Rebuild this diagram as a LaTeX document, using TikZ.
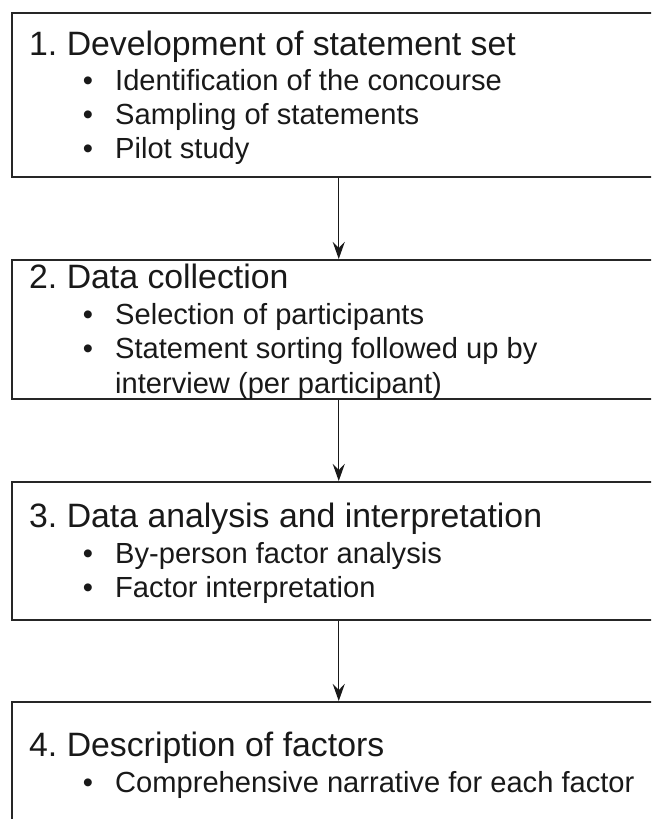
\documentclass[tikz,border=0pt]{standalone}
\usepackage{fontspec}
\setmainfont{Liberation Sans}
\usetikzlibrary{arrows.meta}
\frenchspacing
\begin{document}
\begin{tikzpicture}[x=1pt,y=-1pt,
  stage/.style={draw=black!85, line width=1.5pt, minimum width=654pt, inner sep=0pt, anchor=north west},
  heading/.style={anchor=base west, inner sep=0pt, font=\fontsize{33.8}{40}\selectfont, text=black!90},
  entry/.style={anchor=base west, inner sep=0pt, font=\fontsize{29.1}{34}\selectfont, text=black!90},
  bul/.style={anchor=base, inner sep=0pt, font=\fontsize{29.1}{34}\selectfont, text=black!90},
  flow/.style={-{Stealth[length=17pt,width=12pt,inset=6pt]}, line width=1.4pt, draw=black!90}]
\useasboundingbox (0,0) rectangle (651,819);
\clip (0,0) rectangle (651,819);

% stage boxes (they run past the right and bottom edges)
\node[stage, minimum height=164pt] (s1) at (11,12) {};
\node[stage, minimum height=139pt] (s2) at (11,259) {};
\node[stage, minimum height=138pt] (s3) at (11,481) {};
\node[stage, minimum height=140pt] (s4) at (11,701) {};

% connectors
\draw[flow] (s1.south) -- (s2.north);
\draw[flow] (s2.south) -- (s3.north);
\draw[flow] (s3.south) -- (s4.north);

% stage 1
\node[heading] (h1) at (29,55) {1. Development of statement set};
\node[bul] (b11) at (88,90) {•};
\node[entry] (e11) at (115,90) {Identification of the concourse};
\node[bul] (b12) at (88,124) {•};
\node[entry] (e12) at (115,124) {Sampling of statements};
\node[bul] (b13) at (88,158) {•};
\node[entry] (e13) at (115,158) {Pilot study};

% stage 2
\node[heading] (h2) at (29,288) {2. Data collection};
\node[bul] (b21) at (88,324) {•};
\node[entry] (e21) at (115,324) {Selection of participants};
\node[bul] (b22) at (88,358) {•};
\node[entry] (e22) at (115,358) {Statement sorting followed up by};
\node[entry] (e23) at (115,393) {interview (per participant)};

% stage 3
\node[heading] (h3) at (29,527) {3. Data analysis and interpretation};
\node[bul] (b31) at (88,563) {•};
\node[entry] (e31) at (115,563) {By-person factor analysis};
\node[bul] (b32) at (88,597) {•};
\node[entry] (e32) at (115,597) {Factor interpretation};

% stage 4
\node[heading] (h4) at (29,756) {4. Description of factors};
\node[bul] (b41) at (88,792) {•};
\node[entry] (e41) at (115,792) {Comprehensive narrative for each factor};
\end{tikzpicture}
\end{document}
